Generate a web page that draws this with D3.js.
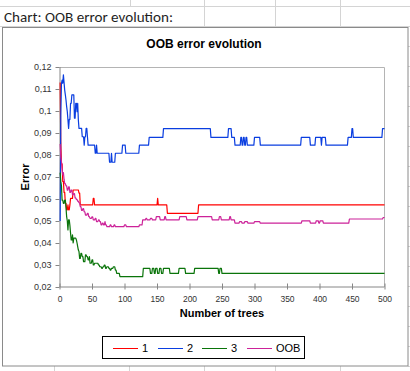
<!DOCTYPE html>
<html><head><meta charset="utf-8">
<script src="https://cdn.jsdelivr.net/npm/d3@7"></script>
<style>
html,body{margin:0;padding:0;background:#fff;}
svg{display:block;}
</style></head>
<body>
<svg id="c" width="410" height="371"></svg>
<script>
// ---- data ----
const seriesNames = ["1", "2", "3", "OOB"];
const seriesColors = ["#ff0000", "#0a3ee0", "#0a740a", "#cc2299"];
const xTicks = [0, 50, 100, 150, 200, 250, 300, 350, 400, 450, 500];
const yTicks = [0.02, 0.03, 0.04, 0.05, 0.06, 0.07, 0.08, 0.09, 0.10, 0.11, 0.12];
const yTickLabels = ["0,02","0,03","0,04","0,05","0,06","0,07","0,08","0,09","0,1","0,11","0,12"];
const lastTree = 500;

// each series: tree index where the error changes, and the error from that tree on
const trees1 = [1,2,3,5,7,9,11,13,14,16,17,21,30,32,52,54,151,152,166,214];
const err1 = [0.113,0.086,0.076,0.068,0.063,0.058,0.0551,0.0573,0.0551,0.0573,0.0603,0.0641,0.0627,0.0573,0.0603,0.0573,0.0603,0.0573,0.0535,0.0573];

const trees2 = [1,2,3,4,5,6,7,8,9,10,11,12,13,14,15,17,19,23,25,27,28,29,30,35,38,39,41,43,44,55,57,58,77,80,81,86,97,102,123,138,160,233,260,265,270,279,281,283,285,287,289,300,309,372,386,394,403,404,410,444,450,452,497];
const err2 = [0.050,0.098,0.1126,0.114,0.1126,0.1164,0.113,0.1095,0.1073,0.105,0.102,0.0997,0.0959,0.0921,0.0962,0.1035,0.1073,0.0967,0.1035,0.0997,0.1035,0.0959,0.0921,0.0883,0.0845,0.0883,0.0921,0.0883,0.0845,0.0808,0.0845,0.0808,0.0767,0.0808,0.0767,0.0808,0.0845,0.0808,0.0845,0.088,0.092,0.088,0.092,0.088,0.0845,0.088,0.0845,0.088,0.0845,0.088,0.0845,0.088,0.0845,0.088,0.0845,0.088,0.0845,0.088,0.0845,0.088,0.092,0.088,0.092];

const trees3 = [1,2,3,4,6,8,10,11,12,13,14,16,17,18,20,21,22,26,27,28,29,30,31,33,35,37,40,42,44,46,47,50,52,54,57,60,62,65,67,69,71,73,76,78,80,83,86,88,93,129,140,143,146,148,151,154,157,160,170,184,194,208,245,247,250];
const err3 = [0.072,0.068,0.066,0.0595,0.058,0.0595,0.056,0.052,0.050,0.0459,0.0505,0.048,0.0445,0.0414,0.0437,0.040,0.0422,0.0414,0.040,0.0384,0.0368,0.0361,0.033,0.0353,0.0338,0.0315,0.0346,0.0338,0.0323,0.0338,0.0308,0.0323,0.030,0.0308,0.0308,0.030,0.0292,0.0285,0.0292,0.030,0.0285,0.0292,0.0285,0.0277,0.0285,0.0292,0.0277,0.0262,0.0247,0.0285,0.0262,0.0285,0.0262,0.0285,0.0262,0.0285,0.0262,0.0285,0.0262,0.0285,0.0262,0.0285,0.0262,0.0285,0.0262];

const treesOOB = [1,2,3,4,5,6,7,8,10,12,14,16,18,20,22,24,26,28,30,32,34,36,38,40,43,45,47,50,52,55,57,60,62,64,66,68,70,71,73,78,80,84,86,100,103,123,128,133,135,140,143,149,155,162,164,185,196,213,235,246,249,262,264,270,277,281,285,290,300,309,373,386,395,399,401,406,446,498];
const errOOB = [0.085,0.079,0.077,0.074,0.071,0.072,0.069,0.067,0.066,0.064,0.0655,0.063,0.0641,0.062,0.0625,0.0605,0.0598,0.059,0.0583,0.0565,0.0548,0.0556,0.0542,0.0527,0.0535,0.052,0.0512,0.0519,0.0505,0.0512,0.0497,0.0505,0.0497,0.0482,0.049,0.0482,0.0497,0.0482,0.0474,0.0482,0.0474,0.0482,0.0474,0.0482,0.0474,0.0482,0.0505,0.0512,0.0505,0.0512,0.0505,0.052,0.0505,0.052,0.0505,0.052,0.0505,0.052,0.0505,0.052,0.0505,0.052,0.0505,0.049,0.0497,0.049,0.0497,0.049,0.0497,0.049,0.0501,0.049,0.0501,0.049,0.0501,0.049,0.0509,0.0516];

const seriesTrees = [trees1, trees2, trees3, treesOOB];
const seriesErr = [err1, err2, err3, errOOB];

// ---- drawing ----
const svg = d3.select("#c");
const FONT = "'Liberation Sans', Arial, sans-serif";
const grid = "#d4d4d4";

// spreadsheet background gridlines
const g0 = svg.append("g").attr("stroke", grid).attr("stroke-width", 1);
g0.append("line").attr("x1", 0).attr("x2", 410).attr("y1", 6.5).attr("y2", 6.5);
g0.append("line").attr("x1", 0).attr("x2", 410).attr("y1", 26.5).attr("y2", 26.5);
[130.5, 204.5, 275.5, 340.5].forEach(x => g0.append("line").attr("x1", x).attr("x2", x).attr("y1", 0).attr("y2", 27));
[54.5, 129.5, 204.5, 275.5, 340.5].forEach(x => g0.append("line").attr("x1", x).attr("x2", x).attr("y1", 366).attr("y2", 371));
for (let yy = 46.5; yy < 371; yy += 20) g0.append("line").attr("x1", 408).attr("x2", 410).attr("y1", yy).attr("y2", yy);
// hide lines under the overflowing cell text
g0.append("rect").attr("x", 0).attr("y", 7).attr("width", 200).attr("height", 19).attr("fill", "#fff").attr("stroke", "none");

svg.append("text").attr("x", 4).attr("y", 22)
  .attr("font-family", "Carlito, 'Liberation Sans', sans-serif").attr("font-size", 14)
  .attr("fill", "#1e1e1e").attr("textLength", 169).attr("lengthAdjust", "spacingAndGlyphs")
  .text("Chart: OOB error evolution:");

// chart frame
svg.append("rect").attr("x", 2.5).attr("y", 27.5).attr("width", 405.5).attr("height", 338.5)
  .attr("fill", "#fff").attr("stroke", "#8a8a8a").attr("stroke-width", 1);

svg.append("text").attr("x", 204).attr("y", 47.5).attr("text-anchor", "middle")
  .attr("font-family", FONT).attr("font-size", 12).attr("font-weight", "bold").attr("fill", "#000")
  .text("OOB error evolution");

const L = 59.5, R = 384.5, T = 67, B = 287;
const x = d3.scaleLinear().domain([0, 500]).range([L, R]);
const y = d3.scaleLinear().domain([0.02, 0.12]).range([B, T]);

// plot area border (top/right)
svg.append("path").attr("d", `M${L},${T + 0.5}H${R}V${B}`).attr("fill", "none").attr("stroke", "#b4b4b4").attr("stroke-width", 1);

// axes
const yAxis = svg.append("g").attr("transform", `translate(${L},0)`)
  .call(d3.axisLeft(y).tickValues(yTicks).tickSize(4).tickPadding(4).tickFormat((d, i) => yTickLabels[i]));
const xAxis = svg.append("g").attr("transform", `translate(0,${B - 0.5})`)
  .call(d3.axisBottom(x).tickValues(xTicks).tickSize(3).tickPadding(6));
[yAxis, xAxis].forEach(a => {
  a.select(".domain").attr("stroke", "#868686");
  a.selectAll(".tick line").attr("stroke", "#868686");
  a.selectAll("text").attr("font-family", FONT).attr("fill", "#333");
});
yAxis.selectAll("text").attr("font-size", 9);
xAxis.selectAll("text").attr("font-size", 8.5);
xAxis.selectAll(".tick line").attr("y1", -3);
yAxis.select(".domain").attr("d", `M0.5,${T}V${B}`);
xAxis.select(".domain").attr("d", `M${L},0.5H${R}`);

// axis titles
svg.append("text").attr("x", 222).attr("y", 317).attr("text-anchor", "middle")
  .attr("font-family", FONT).attr("font-size", 11).attr("font-weight", "bold").text("Number of trees");
svg.append("text").attr("transform", "translate(29,177) rotate(-90)").attr("text-anchor", "middle")
  .attr("font-family", FONT).attr("font-size", 11).attr("font-weight", "bold").text("Error");

// series lines: per-tree values rebuilt from change points (one tree per segment)
function perTree(tr, ev) {
  const pts = [[tr[0], ev[0]]];
  for (let i = 1; i < tr.length; i++) {
    if (tr[i] - 1 > tr[i - 1]) pts.push([tr[i] - 1, ev[i - 1]]);
    pts.push([tr[i], ev[i]]);
  }
  pts.push([lastTree, ev[ev.length - 1]]);
  return pts;
}
const line = d3.line().x(d => x(d[0])).y(d => y(d[1]));
seriesNames.forEach((n, i) => {
  svg.append("path").datum(perTree(seriesTrees[i], seriesErr[i]))
    .attr("d", line).attr("fill", "none").attr("stroke", seriesColors[i])
    .attr("stroke-width", 1.2).attr("stroke-linejoin", "round");
});

// legend
const lg = svg.append("g");
lg.append("rect").attr("x", 102.5).attr("y", 336.5).attr("width", 202).attr("height", 22)
  .attr("fill", "#fff").attr("stroke", "#000").attr("stroke-width", 1);
const lgX = [113, 158, 202, 247];
seriesNames.forEach((n, i) => {
  lg.append("line").attr("x1", lgX[i]).attr("x2", lgX[i] + 25).attr("y1", 348.5).attr("y2", 348.5)
    .attr("stroke", seriesColors[i]).attr("stroke-width", 1);
  lg.append("text").attr("x", lgX[i] + 29).attr("y", 352).attr("font-family", FONT)
    .attr("font-size", 11).attr("fill", "#000").text(n);
});
</script>
</body></html>
